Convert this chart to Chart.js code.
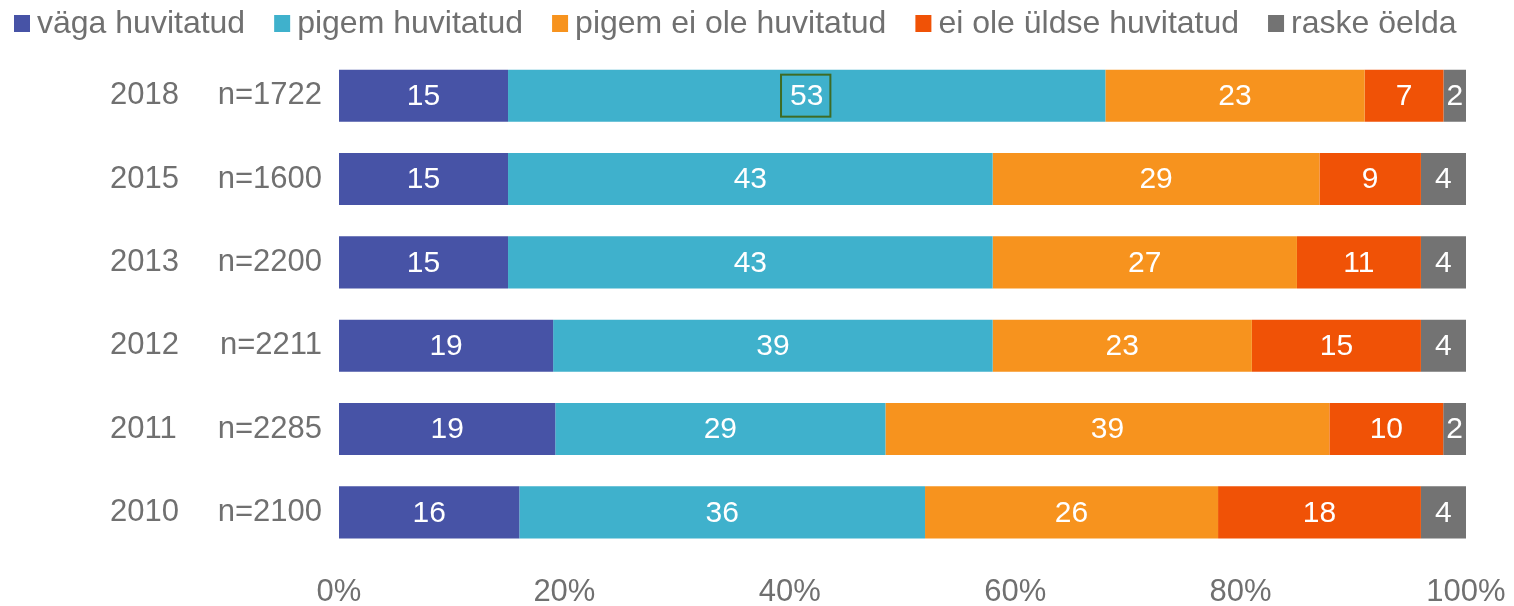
<!DOCTYPE html>
<html>
<head>
<meta charset="utf-8">
<script src="https://cdn.jsdelivr.net/npm/chart.js@4.4.1/dist/chart.umd.min.js"></script>
<style>
html,body{margin:0;padding:0;background:#fff;}
#wrap{width:1514px;height:606px;position:relative;}
</style>
</head>
<body>
<div id="wrap"><canvas id="c"></canvas></div>
<script>
// ---- data ----
const years = ['2018', '2015', '2013', '2012', '2011', '2010'];
const sampleSizes = ['n=1722', 'n=1600', 'n=2200', 'n=2211', 'n=2285', 'n=2100'];
const seriesNames = ['väga huvitatud', 'pigem huvitatud', 'pigem ei ole huvitatud', 'ei ole üldse huvitatud', 'raske öelda'];
const vagaHuvitatud = [15, 15, 15, 19, 19, 16];
const pigemHuvitatud = [53, 43, 43, 39, 29, 36];
const pigemEiOleHuvitatud = [23, 29, 27, 23, 39, 26];
const eiOleUldseHuvitatud = [7, 9, 11, 15, 10, 18];
const raskeOelda = [2, 4, 4, 4, 2, 4];
const xTickValues = [0, 20, 40, 60, 80, 100];

// ---- styles ----
const seriesColors = ['#4753A6', '#3FB1CC', '#F7931E', '#F05206', '#737373'];
const textGray = '#707070';
const FONT = '"Liberation Sans", Arial, Helvetica, sans-serif';

const rawSeries = [vagaHuvitatud, pigemHuvitatud, pigemEiOleHuvitatud, eiOleUldseHuvitatud, raskeOelda];
const totals = years.map((_, i) => rawSeries.reduce((s, arr) => s + arr[i], 0));

const datasets = rawSeries.map((arr, di) => ({
  label: seriesNames[di],
  data: arr.map((v, i) => v / totals[i] * 100),
  backgroundColor: seriesColors[di],
  borderWidth: 0,
  barPercentage: 0.625,
  categoryPercentage: 1.0,
  yAxisID: 'y'
}));

// highlighted label (selection box in the original)
const highlighted = { series: 1, index: 0 };

const valueLabels = {
  id: 'valueLabels',
  afterDatasetsDraw(chart) {
    const ctx = chart.ctx;
    ctx.save();
    ctx.font = '30px ' + FONT;
    ctx.fillStyle = '#ffffff';
    ctx.textAlign = 'center';
    ctx.textBaseline = 'middle';
    rawSeries.forEach((arr, di) => {
      const meta = chart.getDatasetMeta(di);
      meta.data.forEach((bar, i) => {
        const p = bar.getCenterPoint();
        ctx.fillText(String(arr[i]), p.x, p.y + 1);
        if (di === highlighted.series && i === highlighted.index) {
          ctx.strokeStyle = '#3E6B24';
          ctx.lineWidth = 2;
          const w = ctx.measureText(String(arr[i])).width + 16;
          ctx.strokeRect(p.x - w / 2 - 1, p.y - 21, w, 42);
        }
      });
    });
    ctx.restore();
  }
};

const customLegend = {
  id: 'customLegend',
  afterDraw(chart) {
    const ctx = chart.ctx;
    ctx.save();
    ctx.font = '32px ' + FONT;
    ctx.textBaseline = 'middle';
    ctx.textAlign = 'left';
    let x = 14;
    const boxW = 16, boxH = 17, boxTop = 15, textGap = 23, itemGap = 29;
    const midY = boxTop + boxH / 2 + 0.5;
    seriesNames.forEach((name, i) => {
      ctx.fillStyle = seriesColors[i];
      ctx.fillRect(x, boxTop, boxW, boxH);
      ctx.fillStyle = textGray;
      ctx.fillText(name, x + textGap, midY);
      x += textGap + ctx.measureText(name).width + itemGap;
    });
    ctx.restore();
  }
};

new Chart(document.getElementById('c'), {
  type: 'bar',
  data: { labels: years, datasets },
  options: {
    indexAxis: 'y',
    responsive: true,
    maintainAspectRatio: false,
    animation: false,
    layout: { padding: { top: 54, right: 48, bottom: 0, left: 110 } },
    plugins: {
      legend: { display: false },
      tooltip: { enabled: false }
    },
    scales: {
      x: {
        type: 'linear',
        position: 'bottom',
        stacked: true,
        min: 0,
        max: 100,
        grid: { display: false, drawTicks: false },
        border: { display: false },
        afterBuildTicks: (s) => { s.ticks = xTickValues.map(v => ({ value: v })); },
        afterFit: (s) => { s.height = 52; },
        ticks: {
          padding: 0,
          color: textGray,
          font: { family: FONT, size: 31, lineHeight: 2.45 },
          callback: (v) => v + '%'
        }
      },
      y: {
        type: 'category',
        position: 'left',
        stacked: true,
        weight: 0,
        labels: sampleSizes,
        offset: true,
        grid: { display: false, drawTicks: false },
        border: { display: false },
        afterFit: (s) => { s.width = 121; },
        ticks: {
          padding: 17,
          color: textGray,
          font: { family: FONT, size: 31 }
        }
      },
      yYear: {
        type: 'category',
        position: 'left',
        weight: 1,
        labels: years,
        offset: true,
        grid: { display: false, drawTicks: false },
        border: { display: false },
        afterFit: (s) => { s.width = 108; },
        ticks: {
          padding: 0,
          crossAlign: 'far',
          color: textGray,
          font: { family: FONT, size: 31 }
        }
      }
    }
  },
  plugins: [valueLabels, customLegend]
});
</script>
</body>
</html>
